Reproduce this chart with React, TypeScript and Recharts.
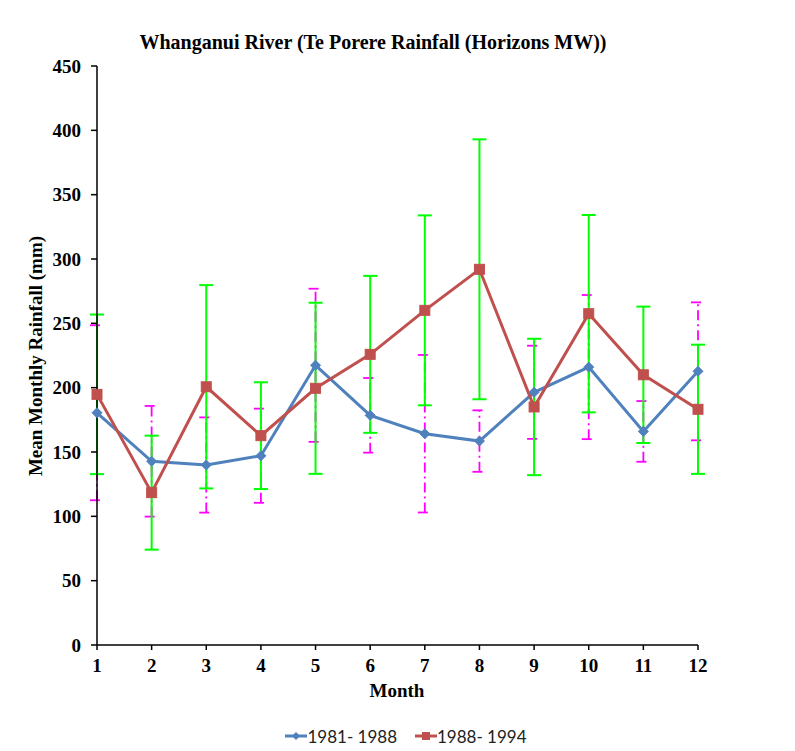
import { LineChart, Line, XAxis, YAxis, ErrorBar, Legend } from 'recharts';

const months = [1, 2, 3, 4, 5, 6, 7, 8, 9, 10, 11, 12];
const rain8188 = [180.5, 142.8, 139.9, 147.1, 217.4, 178.5, 164.2, 158.5, 196.4, 216, 166, 212.7];
const err8188 = [68, 43, 37, 36.6, 59.5, 29, 61.2, 23.9, 36.2, 56, 23.6, 53.6];
const rain8894 = [194.8, 118.4, 200.7, 162.7, 199.5, 225.9, 260.1, 292, 185, 257.5, 210, 183.2];
const err8894 = [62, 44.3, 79, 41.5, 66.5, 61, 73.8, 101, 53, 76.7, 53, 50.2];
const yTicks = [0, 50, 100, 150, 200, 250, 300, 350, 400, 450];

const NAME_A = '1981- 1988';
const NAME_B = '1988- 1994';
const BLUE = '#4F81BD';
const RED = '#C0504D';

const data = months.map((m, i) => ({
  month: m,
  a: rain8188[i],
  aErr: err8188[i],
  b: rain8894[i],
  bErr: err8894[i],
}));

const serif = '"Liberation Serif", "Times New Roman", serif';

const Diamond = (props: any) => {
  const { cx, cy, index } = props;
  if (cx == null || cy == null) return <g key={index} />;
  return (
    <path
      key={index}
      d={`M${cx} ${cy - 5}L${cx + 5} ${cy}L${cx} ${cy + 5}L${cx - 5} ${cy}Z`}
      fill={BLUE}
      stroke={BLUE}
    />
  );
};

const Square = (props: any) => {
  const { cx, cy, index } = props;
  if (cx == null || cy == null) return <g key={index} />;
  return <rect key={index} x={cx - 5} y={cy - 5} width={10} height={10} fill={RED} stroke={RED} />;
};

const LegendBox = () => (
  <div
    style={{
      display: 'flex',
      justifyContent: 'center',
      alignItems: 'center',
      height: 24,
      paddingLeft: 16,
      fontFamily: 'Lato, "Open Sans", sans-serif',
      fontSize: 17,
      color: '#222',
    }}
  >
    <svg width={22} height={12}>
      <line x1={0} y1={6} x2={22} y2={6} stroke={BLUE} strokeWidth={3} />
      <path d="M11 2L15 6L11 10L7 6Z" fill={BLUE} />
    </svg>
    <span style={{ marginRight: 18 }}>{NAME_A}</span>
    <svg width={22} height={12}>
      <line x1={0} y1={6} x2={22} y2={6} stroke={RED} strokeWidth={3} />
      <rect x={7} y={2} width={8} height={8} fill={RED} />
    </svg>
    <span>{NAME_B}</span>
  </div>
);

export default function App() {
  return (
    <div style={{ margin: '-1px 0 0 -1px', border: '1px solid #d9d9d9', width: 800, height: 760 }}>
      <LineChart
        width={780}
        height={743}
        data={data}
        margin={{ top: 58, right: 90, left: 0, bottom: 3 }}
      >
        <text x={365} y={41} textAnchor="middle" fontFamily={serif} fontWeight="bold" fontSize={20}>
          Whanganui River (Te Porere Rainfall (Horizons MW))
        </text>
        <text
          x={29.5}
          y={348}
          transform="rotate(-90 29.5 348)"
          textAnchor="middle"
          dominantBaseline="middle"
          fontFamily={serif}
          fontWeight="bold"
          fontSize={19}
        >
          Mean Monthly Rainfall (mm)
        </text>
        <text x={389} y={685} textAnchor="middle" dominantBaseline="middle" fontFamily={serif} fontWeight="bold" fontSize={19}>
          Month
        </text>
        <XAxis
          type="number"
          dataKey="month"
          domain={[1, 12]}
          ticks={months}
          height={79}
          tickSize={5}
          tickMargin={9}
          stroke="#000"
          strokeWidth={1.5}
          tick={{ fill: '#000', fontFamily: serif, fontWeight: 'bold', fontSize: 19 }}
        />
        <YAxis
          type="number"
          domain={[0, 450]}
          ticks={yTicks}
          width={89}
          tickSize={6}
          tickMargin={10}
          stroke="#000"
          strokeWidth={1.5}
          tick={{ fill: '#000', fontFamily: serif, fontWeight: 'bold', fontSize: 19 }}
        />
        <Legend
          verticalAlign="bottom"
          content={<LegendBox />}
          wrapperStyle={{ left: 0, width: 780 }}
        />
        <Line
          dataKey="a"
          stroke="none"
          dot={false}
          activeDot={false}
          legendType="none"
          isAnimationActive={false}
        >
          <ErrorBar dataKey="aErr" width={7} stroke="#FF00FF" strokeWidth={1.8} strokeDasharray="10 4 2 4" />
        </Line>
        <Line
          dataKey="b"
          stroke="none"
          dot={false}
          activeDot={false}
          legendType="none"
          isAnimationActive={false}
        >
          <ErrorBar dataKey="bErr" width={7} stroke="#00FF00" strokeWidth={2} />
        </Line>
        <Line
          dataKey="a"
          name={NAME_A}
          stroke={BLUE}
          strokeWidth={3}
          dot={Diamond}
          activeDot={false}
          isAnimationActive={false}
        />
        <Line
          dataKey="b"
          name={NAME_B}
          stroke={RED}
          strokeWidth={3}
          dot={Square}
          activeDot={false}
          isAnimationActive={false}
        />
      </LineChart>
    </div>
  );
}
